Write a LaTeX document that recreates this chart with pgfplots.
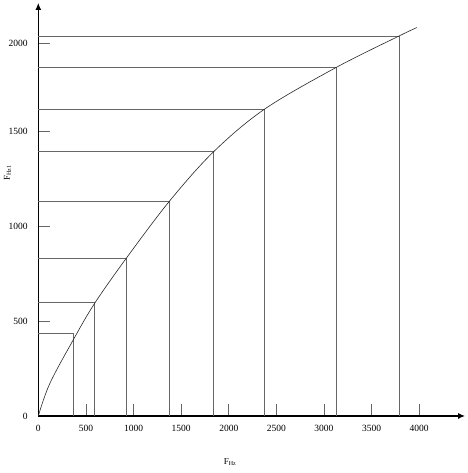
\documentclass[border=0pt]{standalone}
\usepackage{pgfplots}
\pgfplotsset{compat=1.18}
\usetikzlibrary{arrows.meta}
\usepackage{fontspec}
\setmainfont{Liberation Serif}
\begin{document}
\begin{tikzpicture}
\begin{axis}[
  scale only axis,
  width=426.7pt, height=413pt,
  xmin=0, xmax=4482, ymin=0, ymax=2174,
  axis lines=left,
  axis line style={line width=1.4pt, -{Latex[length=7pt,width=6pt]}},
  clip=false,
  tick align=inside,
  major tick length=12pt,
  tick style={gray!80!black, line width=0.6pt},
  xtick={0,500,1000,1500,2000,2500,3000,3500,4000},
  ytick={0,500,1000,1500,1963},
  yticklabels={0,500,1000,1500,2000},
  /pgf/number format/assume math mode=true,
  /pgf/number format/1000 sep={},
  tick label style={font=\fontsize{9.5}{10}\selectfont},
  xticklabel style={yshift=-6pt},
  yticklabel style={xshift=-7pt},
]
% guide lines: (x,0) -> (x,y) -> (0,y)
\pgfplotsset{guide/.style={no marks, solid, line width=0.6pt, black!60}}
\addplot[guide] coordinates {(364,0) (364,437) (0,437)};
\addplot[guide] coordinates {(588,0) (588,596) (0,596)};
\addplot[guide] coordinates {(924,0) (924,830) (0,830)};
\addplot[guide] coordinates {(1380,0) (1380,1132) (0,1132)};
\addplot[guide] coordinates {(1842,0) (1842,1391) (0,1391)};
\addplot[guide] coordinates {(2374,0) (2374,1614) (0,1614)};
\addplot[guide] coordinates {(3124,0) (3124,1833) (0,1833)};
\addplot[guide] coordinates {(3790,0) (3790,2000) (0,2000)};
% curve
\addplot[no marks, solid, smooth, tension=0.55, line width=0.6pt, black!85] coordinates {
(0,0) (120,170) (361,395) (588,590) (924,830) (1380,1132) (1842,1391) (2374,1614) (3124,1833) (3790,2000) (3975,2044)};
\node[font=\fontsize{9}{10}\selectfont] at (axis cs:2014,-242) {F\textsubscript{Hz}};
\node[font=\fontsize{9}{10}\selectfont, rotate=90] at (axis cs:-325,1279) {F\textsubscript{Hz1}};
\path (axis cs:-402,-300) rectangle (axis cs:4503,2189);
\end{axis}
\end{tikzpicture}
\end{document}
